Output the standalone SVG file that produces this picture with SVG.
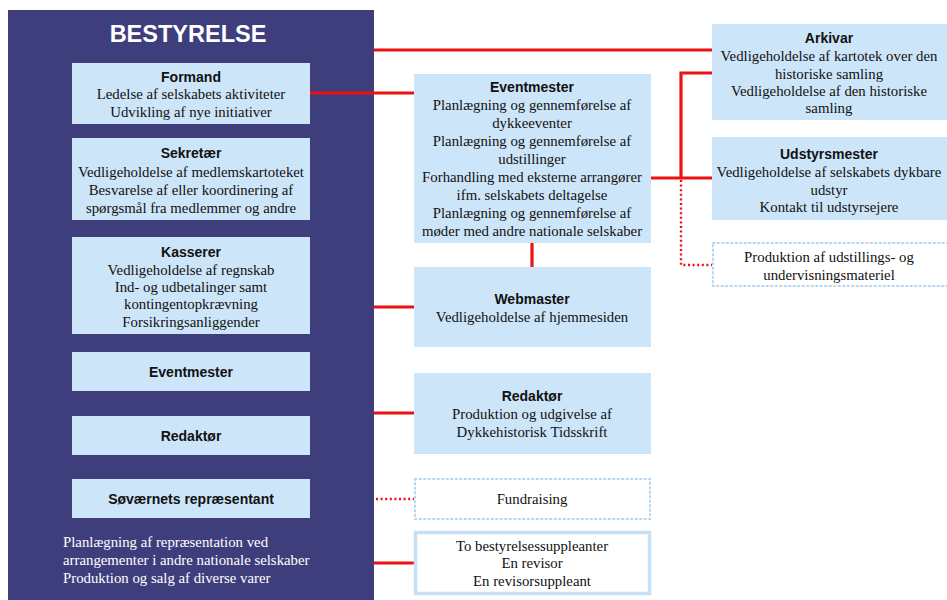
<svg xmlns="http://www.w3.org/2000/svg" width="947" height="600" viewBox="0 0 947 600">
<style>
.box{fill:#cde5f8}
.dbox{fill:#ffffff;stroke:#b8d6f0;stroke-width:2;stroke-dasharray:1.5 3;stroke-linecap:round}
.wbox{fill:#ffffff;stroke:#c6e0f6;stroke-width:3.5}
.t{font-family:"Liberation Sans",Arial,sans-serif;font-weight:bold;font-size:14px;fill:#111;text-anchor:middle}
.s{font-family:"Liberation Serif","Times New Roman",serif;font-size:14.8px;fill:#111;text-anchor:middle}
.w{font-family:"Liberation Serif","Times New Roman",serif;font-size:14.8px;fill:#ffffff}
.c{fill:none;stroke:#ee1111;stroke-width:3.2}
.d{fill:none;stroke:#ee1111;stroke-width:2.4;stroke-dasharray:2 2.6}
</style>
<rect width="947" height="600" fill="#ffffff"/>
<g id="bestyrelse">
<rect x="8" y="10" width="366" height="590" fill="#3f3e7c"/>
<text x="188" y="42" font-family="Liberation Sans,Arial,sans-serif" font-weight="bold" font-size="23.5" fill="#ffffff" text-anchor="middle">BESTYRELSE</text>
</g>
<g id="formand">
<rect class="box" x="72" y="63" width="238" height="61"/>
<text class="t" x="191" y="82">Formand</text>
<text class="s" x="191" y="99">Ledelse af selskabets aktiviteter</text>
<text class="s" x="191" y="117">Udvikling af nye initiativer</text>
</g>
<g id="sekretaer">
<rect class="box" x="72" y="138" width="238" height="82"/>
<text class="t" x="191" y="158">Sekretær</text>
<text class="s" x="191" y="177">Vedligeholdelse af medlemskartoteket</text>
<text class="s" x="191" y="195">Besvarelse af eller koordinering af</text>
<text class="s" x="191" y="213">spørgsmål fra medlemmer og andre</text>
</g>
<g id="kasserer">
<rect class="box" x="72" y="237" width="238" height="97"/>
<text class="t" x="191" y="257">Kasserer</text>
<text class="s" x="191" y="275">Vedligeholdelse af regnskab</text>
<text class="s" x="191" y="292">Ind- og udbetalinger samt</text>
<text class="s" x="191" y="309">kontingentopkrævning</text>
<text class="s" x="191" y="327">Forsikringsanliggender</text>
</g>
<g id="eventmester-left">
<rect class="box" x="72" y="352" width="238" height="39"/>
<text class="t" x="191" y="377">Eventmester</text>
</g>
<g id="redaktor-left">
<rect class="box" x="72" y="416" width="238" height="39"/>
<text class="t" x="191" y="441">Redaktør</text>
</g>
<g id="sovaernets">
<rect class="box" x="72" y="479" width="238" height="39"/>
<text class="t" x="191" y="504">Søværnets repræsentant</text>
</g>
<g id="bestyrelse-notes">
<text class="w" x="63" y="547">Planlægning af repræsentation ved</text>
<text class="w" x="63" y="565">arrangementer i andre nationale selskaber</text>
<text class="w" x="63" y="583">Produktion og salg af diverse varer</text>
</g>
<g id="connectors">
<path class="c" d="M374 50H712"/>
<path class="c" d="M310 93H415"/>
<path class="c" d="M650 178H712M681 178V73H712"/>
<path class="d" d="M681 180V265H712"/>
<path class="c" d="M532 243V267"/>
<path class="c" d="M374 307H415"/>
<path class="c" d="M374 413H415"/>
<path class="d" d="M376 499H414"/>
<path class="c" d="M374 563H415"/>
</g>
<g id="eventmester">
<rect class="box" x="414" y="74" width="237" height="169"/>
<text class="t" x="532" y="92">Eventmester</text>
<text class="s" x="532" y="110">Planlægning og gennemførelse af</text>
<text class="s" x="532" y="128">dykkeeventer</text>
<text class="s" x="532" y="146">Planlægning og gennemførelse af</text>
<text class="s" x="532" y="164">udstillinger</text>
<text class="s" x="532" y="182">Forhandling med eksterne arrangører</text>
<text class="s" x="532" y="200">ifm. selskabets deltagelse</text>
<text class="s" x="532" y="218">Planlægning og gennemførelse af</text>
<text class="s" x="532" y="236">møder med andre nationale selskaber</text>
</g>
<g id="webmaster">
<rect class="box" x="414" y="267" width="237" height="80"/>
<text class="t" x="532" y="304">Webmaster</text>
<text class="s" x="532" y="322">Vedligeholdelse af hjemmesiden</text>
</g>
<g id="redaktor">
<rect class="box" x="414" y="373" width="237" height="81"/>
<text class="t" x="532" y="401">Redaktør</text>
<text class="s" x="532" y="419">Produktion og udgivelse af</text>
<text class="s" x="532" y="437">Dykkehistorisk Tidsskrift</text>
</g>
<g id="fundraising">
<rect class="dbox" x="415" y="479" width="235" height="40"/>
<text class="s" x="532" y="504">Fundraising</text>
</g>
<g id="suppleanter">
<rect class="wbox" x="415.5" y="532.5" width="234" height="61"/>
<text class="s" x="532" y="551">To bestyrelsessuppleanter</text>
<text class="s" x="532" y="568">En revisor</text>
<text class="s" x="532" y="586">En revisorsuppleant</text>
</g>
<g id="arkivar">
<rect class="box" x="712" y="24" width="235" height="96"/>
<text class="t" x="829" y="43">Arkivar</text>
<text class="s" x="829" y="61">Vedligeholdelse af kartotek over den</text>
<text class="s" x="829" y="79">historiske samling</text>
<text class="s" x="829" y="96">Vedligeholdelse af den historiske</text>
<text class="s" x="829" y="113">samling</text>
</g>
<g id="udstyrsmester">
<rect class="box" x="712" y="137" width="235" height="83"/>
<text class="t" x="829" y="159">Udstyrsmester</text>
<text class="s" x="829" y="177">Vedligeholdelse af selskabets dykbare</text>
<text class="s" x="829" y="195">udstyr</text>
<text class="s" x="829" y="212">Kontakt til udstyrsejere</text>
</g>
<g id="produktion">
<rect class="dbox" x="713" y="243" width="240" height="43"/>
<text class="s" x="829" y="262">Produktion af udstillings- og</text>
<text class="s" x="829" y="280">undervisningsmateriel</text>
</g>
</svg>
